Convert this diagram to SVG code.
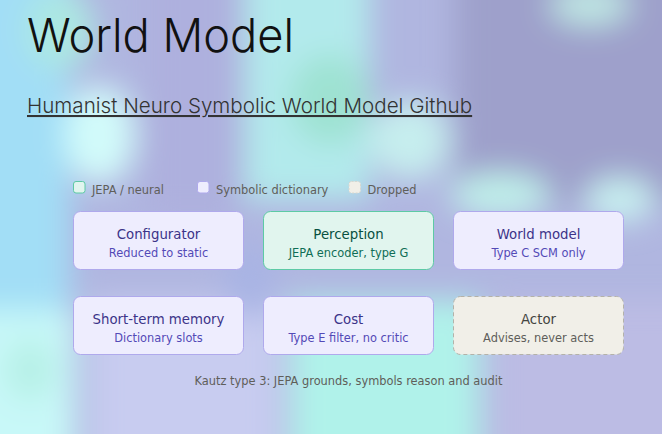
<svg xmlns="http://www.w3.org/2000/svg" width="662" height="434" viewBox="0 0 662 434">
<defs>
<filter id="blur" x="-20%" y="-20%" width="140%" height="140%"><feGaussianBlur stdDeviation="15"/></filter>
<style>
.t{font-family:"DejaVu Sans",Verdana,sans-serif;text-anchor:middle}
.h{font-size:13.3px}
.s{font-size:11.4px}
.lg{font-family:"DejaVu Sans",Verdana,sans-serif;font-size:11.4px;fill:#5f5e5a}
.pu rect{fill:#eeedfe;stroke:#afa9ec;stroke-width:1}
.pu .h{fill:#3c3489}
.pu .s{fill:#534ab7}
.te rect{fill:#e1f5ee;stroke:#5dcaa5;stroke-width:1}
.te .h{fill:#085041}
.te .s{fill:#0f6e56}
.gr rect{fill:#f1efe8;stroke:#b4b2a9;stroke-width:1;stroke-dasharray:4 3}
.gr .h{fill:#444441}
.gr .s{fill:#5f5e5a}
</style>
</defs>
<g id="background">
<rect width="662" height="434" fill="#b0b6e0"/>
<g filter="url(#blur)">
<rect x="-40" y="-40" width="110" height="350" fill="#a2def6"/>
<ellipse cx="60" cy="30" rx="35" ry="40" fill="#ace8e2"/>
<ellipse cx="100" cy="135" rx="35" ry="50" fill="#d2fbfa"/>
<rect x="145" y="-40" width="95" height="260" fill="#aeb0de"/>
<rect x="245" y="-40" width="125" height="240" fill="#b2eaec"/>
<ellipse cx="330" cy="100" rx="40" ry="45" fill="#9ee2d2"/>
<ellipse cx="410" cy="140" rx="40" ry="40" fill="#c6eeee"/>
<rect x="455" y="-40" width="260" height="245" fill="#9ea0cb"/>
<ellipse cx="590" cy="5" rx="40" ry="20" fill="#c0e8e4"/>
<ellipse cx="500" cy="195" rx="50" ry="22" fill="#c0f0ea"/>
<ellipse cx="620" cy="200" rx="35" ry="22" fill="#c8f0f0"/>
<rect x="-40" y="310" width="115" height="170" fill="#c8f8f8"/>
<ellipse cx="30" cy="370" rx="25" ry="30" fill="#b6f0e6"/>
<rect x="90" y="300" width="190" height="180" fill="#c8ccf0"/>
<rect x="290" y="300" width="190" height="180" fill="#b0f2ea"/>
<rect x="490" y="300" width="220" height="180" fill="#bcbce4"/>
<ellipse cx="250" cy="280" rx="25" ry="40" fill="#a8b4e4"/>
</g>
</g>
<g id="header">
<text x="27" y="52" font-family="Inter, 'Liberation Sans', sans-serif" font-weight="300" font-size="47" fill="#111111" textLength="267" lengthAdjust="spacingAndGlyphs">World Model</text>
<text x="27" y="113" font-family="Inter, 'Liberation Sans', sans-serif" font-weight="300" font-size="20.6" fill="#333333" text-decoration="underline">Humanist Neuro Symbolic World Model Github</text>
</g>
<g id="legend">
<rect x="73.5" y="181.5" width="11.5" height="11.5" rx="2.5" fill="#e1f5ee" stroke="#5dcaa5" stroke-width="1"/>
<text class="lg" x="92" y="194">JEPA / neural</text>
<rect x="197.5" y="181.5" width="11.5" height="11.5" rx="2.5" fill="#eeedfe" stroke="#afa9ec" stroke-width="1"/>
<text class="lg" x="216" y="194">Symbolic dictionary</text>
<rect x="349" y="181.5" width="11.5" height="11.5" rx="2.5" fill="#f1efe8" stroke="#d8d6ce" stroke-width="1" stroke-dasharray="2 1.5"/>
<text class="lg" x="367.5" y="194">Dropped</text>
</g>
<g id="configurator" class="pu">
<rect x="73.5" y="211.5" width="170" height="58" rx="7"/>
<text class="t h" x="158.5" y="238.5">Configurator</text>
<text class="t s" x="158.5" y="256.5">Reduced to static</text>
</g>
<g id="perception" class="te">
<rect x="263.5" y="211.5" width="170" height="58" rx="7"/>
<text class="t h" x="348.5" y="238.5">Perception</text>
<text class="t s" x="348.5" y="256.5">JEPA encoder, type G</text>
</g>
<g id="world-model" class="pu">
<rect x="453.5" y="211.5" width="170" height="58" rx="7"/>
<text class="t h" x="538.5" y="238.5">World model</text>
<text class="t s" x="538.5" y="256.5">Type C SCM only</text>
</g>
<g id="short-term-memory" class="pu">
<rect x="73.5" y="296.5" width="170" height="58" rx="7"/>
<text class="t h" x="158.5" y="323.5">Short-term memory</text>
<text class="t s" x="158.5" y="341.5">Dictionary slots</text>
</g>
<g id="cost" class="pu">
<rect x="263.5" y="296.5" width="170" height="58" rx="7"/>
<text class="t h" x="348.5" y="323.5">Cost</text>
<text class="t s" x="348.5" y="341.5">Type E filter, no critic</text>
</g>
<g id="actor" class="gr">
<rect x="453.5" y="296.5" width="170" height="58" rx="7"/>
<text class="t h" x="538.5" y="323.5">Actor</text>
<text class="t s" x="538.5" y="341.5">Advises, never acts</text>
</g>
<g id="connectors"/>
<text class="t s" x="348.5" y="385" fill="#5f5e5a">Kautz type 3: JEPA grounds, symbols reason and audit</text>
</svg>
